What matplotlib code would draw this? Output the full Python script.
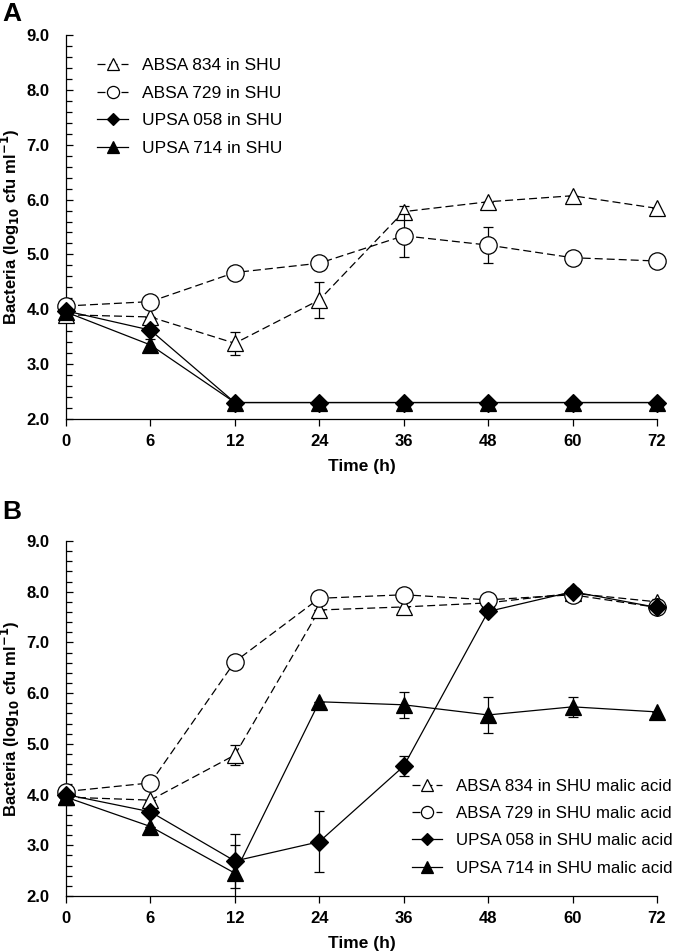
import matplotlib
matplotlib.use("Agg")
import matplotlib.pyplot as plt
import numpy as np

plt.rcParams['font.family'] = ['Liberation Sans', 'DejaVu Sans']
plt.rcParams['mathtext.default'] = 'bf'

time_labels = ["0", "6", "12", "24", "36", "48", "60", "72"]

# Panel A: growth in SHU
a_names = ["ABSA 834 in SHU", "ABSA 729 in SHU", "UPSA 058 in SHU", "UPSA 714 in SHU"]
a_834 = [3.90, 3.86, 3.38, 4.17, 5.78, 5.96, 6.07, 5.84]
a_834_err = [0.0, 0.0, 0.21, 0.33, 0.10, 0.0, 0.0, 0.0]
a_729 = [4.06, 4.14, 4.67, 4.84, 5.34, 5.17, 4.94, 4.88]
a_729_err = [0.0, 0.0, 0.0, 0.0, 0.39, 0.33, 0.0, 0.0]
a_058 = [3.97, 3.62, 2.30, 2.30, 2.30, 2.30, 2.30, 2.30]
a_058_err = [0.0, 0.0, 0.0, 0.0, 0.0, 0.0, 0.0, 0.0]
a_714 = [3.95, 3.35, 2.30, 2.30, 2.30, 2.30, 2.30, 2.30]
a_714_err = [0.0, 0.10, 0.0, 0.0, 0.0, 0.0, 0.0, 0.0]

# Panel B: growth in SHU malic acid
b_names = ["ABSA 834 in SHU malic acid", "ABSA 729 in SHU malic acid",
           "UPSA 058 in SHU malic acid", "UPSA 714 in SHU malic acid"]
b_834 = [3.95, 3.89, 4.78, 7.64, 7.70, 7.78, 7.97, 7.80]
b_834_err = [0.0, 0.0, 0.20, 0.0, 0.0, 0.0, 0.0, 0.05]
b_729 = [4.06, 4.23, 6.62, 7.87, 7.94, 7.84, 7.94, 7.69]
b_729_err = [0.0, 0.0, 0.0, 0.0, 0.0, 0.0, 0.0, 0.10]
b_058 = [4.00, 3.66, 2.69, 3.07, 4.56, 7.61, 8.00, 7.69]
b_058_err = [0.0, 0.0, 0.53, 0.60, 0.20, 0.0, 0.0, 0.0]
b_714 = [3.95, 3.37, 2.45, 5.83, 5.77, 5.57, 5.73, 5.63]
b_714_err = [0.0, 0.0, 0.55, 0.0, 0.26, 0.36, 0.20, 0.0]

W, H = 680, 952
fig = plt.figure(figsize=(W / 100, H / 100), dpi=100)

def ax_rect(left, right, top, bottom):
    return [left / W, 1 - bottom / H, (right - left) / W, (bottom - top) / H]

axA = fig.add_axes(ax_rect(66, 657, 35, 419))
axB = fig.add_axes(ax_rect(66, 657, 541, 896))

styles = [
    dict(marker='^', ms=12, mfc='white', mec='black', ls=(0, (6.4, 3.2)), lw=0.9),
    dict(marker='o', ms=12.5, mfc='white', mec='black', ls=(0, (6.4, 3.2)), lw=0.9),
    dict(marker='D', ms=9, mfc='black', mec='black', ls='-', lw=0.9),
    dict(marker='^', ms=12, mfc='black', mec='black', ls='-', lw=0.9),
]

def draw(ax, series, errs, names, legend_xy, legend_fs):
    x = np.arange(len(time_labels))
    handles = []
    for i, (y, e, st) in enumerate(zip(series, errs, styles)):
        ax.errorbar(x, y, yerr=e, fmt='none', ecolor='black', elinewidth=0.9,
                    capsize=3.5, capthick=0.9, zorder=2 + i * 2)
        h, = ax.plot(x, y, color='black', mew=0.9, zorder=3 + i * 2,
                     clip_on=False, label=names[i], **st)
        handles.append(h)
    ax.set_xlim(0, len(time_labels) - 1)
    ax.set_ylim(2.0, 9.0)
    ax.set_xticks(x)
    ax.set_xticklabels(time_labels, fontweight='bold', fontsize=12)
    ax.set_yticks(np.arange(2, 9.01, 1.0))
    ax.set_yticklabels([f"{v:.1f}" for v in np.arange(2, 9.01, 1.0)],
                       fontweight='bold', fontsize=12)
    ax.set_yticks(np.arange(2, 9.01, 0.2), minor=True)
    ax.tick_params(axis='y', which='major', direction='in', length=5, width=0.9, pad=12)
    ax.tick_params(axis='y', which='minor', direction='in', length=4, width=0.9)
    ax.tick_params(axis='x', which='major', direction='out', length=5, width=0.9, pad=6)
    for s in ['top', 'right']:
        ax.spines[s].set_visible(False)
    for s in ['left', 'bottom']:
        ax.spines[s].set_linewidth(0.9)
        ax.spines[s].set_color('black')
    ax.set_xlabel("Time (h)", fontweight='bold', fontsize=12.5, labelpad=7)
    ax.set_ylabel(r"Bacteria (log$_{\mathbf{10}}$ cfu ml$^{\mathbf{-1}}$)",
                  fontweight='bold', fontsize=12, labelpad=3)
    leg = ax.legend(handles=handles, loc='upper left', bbox_to_anchor=legend_xy,
                    bbox_transform=fig.transFigure, frameon=False, borderaxespad=0,
                    borderpad=0, handlelength=1.8, handletextpad=0.8,
                    labelspacing=0.72, fontsize=legend_fs, markerscale=0.7)
    return leg

draw(axA, [a_834, a_729, a_058, a_714], [a_834_err, a_729_err, a_058_err, a_714_err],
     a_names, (97 / W, 1 - 58 / H), 12.5)
draw(axB, [b_834, b_729, b_058, b_714], [b_834_err, b_729_err, b_058_err, b_714_err],
     b_names, (412 / W, 1 - 779 / H), 12.2)

fig.text(2 / W, 1 - 2 / H, "A", fontsize=19, fontweight='bold', va='top', ha='left')
fig.text(2 / W, 1 - 500 / H, "B", fontsize=19, fontweight='bold', va='top', ha='left')

fig.savefig("out.png", dpi=100)
